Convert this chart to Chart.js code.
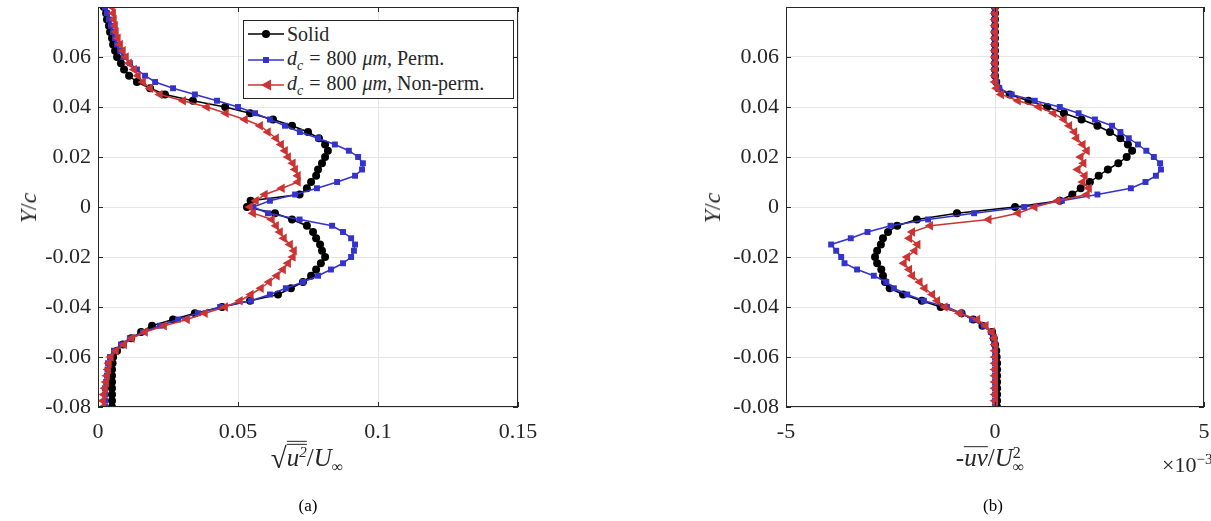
<!DOCTYPE html>
<html lang="en">
<head>
<meta charset="UTF-8">
<title>Wake profiles: u rms and Reynolds shear stress</title>
<script src="https://cdn.jsdelivr.net/npm/chart.js@4.4.3/dist/chart.umd.min.js"></script>
<style>
  body { margin: 0; width: 1211px; height: 521px; background: #fff; position: relative; overflow: hidden;
         font-family: 'Liberation Serif', serif; color: #262626; }
  canvas { position: absolute; top: 0; }
  .lbl { position: absolute; white-space: nowrap; line-height: 1; }
  .it { font-style: italic; }
  .ytitle { font-size: 24px; transform: translate(-50%, -50%) rotate(-90deg); }
  .xtitle { font-size: 25px; transform: translate(-50%, -50%); }
  .cap { font-size: 17px; transform: translate(-50%, -50%); color: #000; }
  .vin { display: inline-block; border-top: 1px solid #262626; line-height: 1; padding-top: 2px; }
  .bar { display: inline-block; border-top: 1px solid #262626; line-height: 0.62; padding-top: 3px; }
  #legend { position: absolute; left: 243px; top: 20px; width: 269px; height: 77px; border: 1px solid #262626;
            background: #fff; font-size: 20px; }
  #legend .row { position: absolute; left: 4px; height: 24px; display: flex; align-items: center; }
  #legend svg { margin-right: 3px; }
  .sp { display: inline-block; width: 6px; }
</style>
</head>
<body>
<canvas id="cu" width="560" height="470" style="left:0"></canvas>
<canvas id="cuv" width="521" height="470" style="left:690px"></canvas>

<!-- legend (panel a) -->
<div id="legend">
  <div class="row" style="top:1px">
    <svg width="36" height="14"><line x1="0" y1="7" x2="36" y2="7" stroke="#000" stroke-width="1.5"/><circle cx="18" cy="7" r="4" fill="#000"/></svg>
    <span>Solid</span>
  </div>
  <div class="row" style="top:27px">
    <svg width="36" height="14"><line x1="0" y1="7" x2="36" y2="7" stroke="#3333cc" stroke-width="1.5"/><rect x="15" y="4" width="6" height="6" fill="#3333cc"/></svg>
    <span><span class="it">d<sub style="font-size:14px">c</sub></span><span class="sp"></span>=<span class="sp"></span>800<span class="sp"></span><span class="it">&mu;m</span>, Perm.</span>
  </div>
  <div class="row" style="top:52px">
    <svg width="36" height="14"><line x1="0" y1="7" x2="36" y2="7" stroke="#cc3333" stroke-width="1.5"/><polygon points="13,7 23,1.5 23,12.5" fill="#cc3333"/></svg>
    <span><span class="it">d<sub style="font-size:14px">c</sub></span><span class="sp"></span>=<span class="sp"></span>800<span class="sp"></span><span class="it">&mu;m</span>, Non-perm.</span>
  </div>
</div>

<!-- axis titles -->
<div class="lbl ytitle" style="left:28px; top:208px"><span class="it">Y</span>/<span class="it">c</span></div>
<div class="lbl ytitle" style="left:712px; top:208px"><span class="it">Y</span>/<span class="it">c</span></div>
<div class="lbl xtitle" style="left:307px; top:458px"><span style="font-size:29px; vertical-align:-2px">&radic;</span><span class="vin"><span class="bar it">u<sup style="font-size:15px">2</sup></span></span>/<span class="it">U</span><sub style="font-size:16px">&infin;</sub></div>
<div class="lbl xtitle" style="left:990px; top:460px">-<span class="bar it">uv</span>/<span class="it">U</span><span style="display:inline-flex; flex-direction:column; font-size:16px; vertical-align:middle; line-height:0.9"><span>2</span><span>&infin;</span></span></div>
<div class="lbl" style="left:1162px; top:452px; font-size:22px">&times;10<sup style="font-size:15px">&minus;3</sup></div>
<div class="lbl cap" style="left:308px; top:505px">(a)</div>
<div class="lbl cap" style="left:993px; top:505px">(b)</div>

<script>
// wall-normal positions, shared by all profiles
const yPos = [-0.08, -0.0775, -0.075, -0.0725, -0.07, -0.0675, -0.065, -0.0625, -0.06, -0.0575,
  -0.055, -0.0525, -0.05, -0.0475, -0.045, -0.0425, -0.04, -0.0375, -0.035, -0.0325,
  -0.03, -0.0275, -0.025, -0.0225, -0.02, -0.0175, -0.015, -0.0125, -0.01, -0.0075,
  -0.005, -0.0025, 0, 0.0025, 0.005, 0.0075, 0.01, 0.0125, 0.015, 0.0175,
  0.02, 0.0225, 0.025, 0.0275, 0.03, 0.0325, 0.035, 0.0375, 0.04, 0.0425,
  0.045, 0.0475, 0.05, 0.0525, 0.055, 0.0575, 0.06, 0.0625, 0.065, 0.0675,
  0.07, 0.0725, 0.075, 0.0775, 0.08];

// (a) sqrt(u^2)/U_inf
const urmsSolid = [0.0050, 0.0050, 0.0050, 0.0050, 0.0050, 0.0050, 0.0050, 0.0052, 0.0054, 0.0068,
  0.0089, 0.0118, 0.0154, 0.0193, 0.0268, 0.0346, 0.0443, 0.0543, 0.0643, 0.0689,
  0.0732, 0.0761, 0.0779, 0.0796, 0.0811, 0.0800, 0.0793, 0.0779, 0.0768, 0.0746,
  0.0693, 0.0632, 0.0532, 0.0545, 0.0720, 0.0746, 0.0761, 0.0779, 0.0786, 0.0800,
  0.0811, 0.0821, 0.0811, 0.0789, 0.0750, 0.0693, 0.0625, 0.0543, 0.0454, 0.0339,
  0.0239, 0.0186, 0.0139, 0.0111, 0.0093, 0.0082, 0.0068, 0.0061, 0.0054, 0.0050,
  0.0043, 0.0039, 0.0032, 0.0029, 0.0021];
const urmsPerm = [0.0025, 0.0025, 0.0025, 0.0025, 0.0029, 0.0032, 0.0034, 0.0036, 0.0043, 0.0057,
  0.0082, 0.0114, 0.0161, 0.0221, 0.0286, 0.0357, 0.0436, 0.0546, 0.0614, 0.0671,
  0.0732, 0.0786, 0.0832, 0.0875, 0.0904, 0.0914, 0.0918, 0.0904, 0.0875, 0.0836,
  0.0720, 0.0607, 0.0554, 0.0614, 0.0704, 0.0782, 0.0854, 0.0918, 0.0943, 0.0946,
  0.0929, 0.0896, 0.0846, 0.0786, 0.0721, 0.0668, 0.0614, 0.0561, 0.0500, 0.0425,
  0.0346, 0.0268, 0.0204, 0.0168, 0.0139, 0.0114, 0.0093, 0.0079, 0.0068, 0.0061,
  0.0054, 0.0046, 0.0039, 0.0032, 0.0025];
const urmsNonPerm = [0.0018, 0.0018, 0.0021, 0.0025, 0.0029, 0.0032, 0.0036, 0.0039, 0.0046, 0.0064,
  0.0093, 0.0121, 0.0168, 0.0236, 0.0318, 0.0382, 0.0454, 0.0507, 0.0546, 0.0582,
  0.0611, 0.0639, 0.0661, 0.0679, 0.0696, 0.0700, 0.0686, 0.0664, 0.0650, 0.0636,
  0.0621, 0.0554, 0.0543, 0.0564, 0.0596, 0.0657, 0.0714, 0.0714, 0.0704, 0.0696,
  0.0679, 0.0668, 0.0654, 0.0636, 0.0607, 0.0579, 0.0525, 0.0457, 0.0389, 0.0304,
  0.0221, 0.0186, 0.0161, 0.0143, 0.0129, 0.0111, 0.0100, 0.0089, 0.0079, 0.0071,
  0.0064, 0.0061, 0.0057, 0.0054, 0.0050];

// (b) -uv/U_inf^2, in units of 1e-3
const uvSolid = [0.05, 0.05, 0.05, 0.05, 0.05, 0.05, 0.05, 0.05, 0.04, 0.03,
  0.0, -0.03, -0.07, -0.30, -0.52, -0.80, -1.30, -1.75, -2.20, -2.52,
  -2.63, -2.68, -2.72, -2.82, -2.87, -2.82, -2.73, -2.68, -2.56, -2.34,
  -1.87, -0.91, 0.48, 1.55, 1.85, 2.05, 2.27, 2.48, 2.70, 2.95,
  3.15, 3.28, 3.18, 3.00, 2.75, 2.45, 2.07, 1.65, 1.25, 0.80,
  0.35, 0.08, 0.03, 0.0, 0.0, 0.0, 0.0, 0.0, 0.0, 0.0,
  0.0, 0.0, 0.0, 0.0, 0.0];
const uvPerm = [0.0, 0.0, 0.0, 0.0, 0.0, 0.0, 0.0, 0.0, 0.0, 0.0,
  0.0, -0.03, -0.10, -0.27, -0.55, -0.80, -1.15, -1.70, -2.10, -2.42,
  -2.60, -2.90, -3.30, -3.60, -3.68, -3.80, -3.92, -3.45, -3.05, -2.50,
  -1.60, -0.50, 0.70, 1.60, 2.45, 3.25, 3.60, 3.85, 3.97, 3.95,
  3.80, 3.62, 3.42, 3.20, 3.00, 2.80, 2.39, 2.00, 1.55, 0.95,
  0.40, 0.10, 0.03, 0.0, 0.0, 0.0, 0.0, 0.0, 0.0, 0.0,
  0.0, 0.0, 0.0, 0.0, 0.0];
const uvNonPerm = [0.0, 0.0, 0.0, 0.0, 0.0, 0.0, 0.0, 0.0, 0.0, 0.0,
  0.0, -0.02, -0.07, -0.22, -0.42, -0.85, -1.20, -1.38, -1.50, -1.68,
  -1.80, -1.98, -2.05, -2.18, -2.10, -1.92, -1.85, -2.05, -1.98, -1.55,
  -0.15, 0.55, 0.95, 1.50, 2.20, 2.25, 2.10, 2.15, 1.98, 2.12,
  2.05, 2.20, 2.10, 1.95, 1.90, 1.78, 1.65, 1.40, 1.05, 0.55,
  0.15, 0.04, 0.0, 0.0, 0.0, 0.0, 0.0, 0.0, 0.0, 0.0,
  0.0, 0.0, 0.0, 0.0, 0.0];

const axisColor = '#262626';
const tickFont = { family: "'Liberation Serif', serif", size: 22 };

// box around the axes with small inward tick marks, like MATLAB
const frame = {
  id: 'frame',
  afterDraw(chart) {
    const { ctx, chartArea: a, scales } = chart;
    ctx.save();
    ctx.strokeStyle = axisColor;
    ctx.lineWidth = 1;
    ctx.strokeRect(a.left + 0.5, a.top + 0.5, a.right - a.left - 1, a.bottom - a.top - 1);
    ctx.beginPath();
    scales.x.ticks.forEach((t, i) => {
      const px = Math.round(scales.x.getPixelForTick(i)) + 0.5;
      ctx.moveTo(px, a.bottom); ctx.lineTo(px, a.bottom - 5);
      ctx.moveTo(px, a.top); ctx.lineTo(px, a.top + 5);
    });
    scales.y.ticks.forEach((t, i) => {
      const py = Math.round(scales.y.getPixelForTick(i)) + 0.5;
      ctx.moveTo(a.left, py); ctx.lineTo(a.left + 5, py);
      ctx.moveTo(a.right, py); ctx.lineTo(a.right - 5, py);
    });
    ctx.stroke();
    ctx.restore();
  }
};

function profile(xs, color, style, radius, order) {
  return {
    data: xs.map((v, i) => ({ x: v, y: yPos[i] })),
    borderColor: color,
    backgroundColor: color,
    borderWidth: 1.5,
    showLine: true,
    pointStyle: style,
    pointRadius: radius,
    pointRotation: style === 'triangle' ? -90 : 0,
    pointBorderWidth: 0,
    order: order
  };
}

function makeChart(id, sets, xOpts, rightPad, yWidth) {
  return new Chart(document.getElementById(id), {
    type: 'scatter',
    data: { datasets: sets },
    options: {
      responsive: false,
      animation: false,
      layout: { padding: { top: 7, right: rightPad, left: 0, bottom: 0 } },
      plugins: { legend: { display: false }, tooltip: { enabled: false } },
      scales: {
        x: Object.assign({
          grid: { color: '#e6e6e6', drawTicks: false },
          border: { display: false },
          afterFit: s => { s.height = 63; s.paddingLeft = 0; s.paddingRight = 0; }
        }, xOpts),
        y: {
          min: -0.08, max: 0.08,
          grid: { color: '#e6e6e6', drawTicks: false },
          border: { display: false },
          ticks: {
            stepSize: 0.02, font: tickFont, color: axisColor, padding: 7,
            callback: v => Math.abs(v - 0.08) < 1e-9 ? '' : (Math.abs(v) < 1e-9 ? '0' : v.toFixed(2))
          },
          afterFit: s => { s.width = yWidth; s.paddingTop = 0; s.paddingBottom = 0; }
        }
      }
    },
    plugins: [frame]
  });
}

function draw() {
  makeChart('cu', [
    profile(urmsSolid, '#000000', 'circle', 4, 2),
    profile(urmsPerm, '#3333cc', 'rect', 4.2, 1),
    profile(urmsNonPerm, '#cc3333', 'triangle', 5.5, 0)
  ], {
    min: 0, max: 0.15,
    ticks: { font: tickFont, color: axisColor, padding: 12, maxRotation: 0, stepSize: 0.05,
             callback: v => String(+v.toFixed(2)) }
  }, 42, 98);

  makeChart('cuv', [
    profile(uvSolid, '#000000', 'circle', 4, 2),
    profile(uvPerm, '#3333cc', 'rect', 4.2, 1),
    profile(uvNonPerm, '#cc3333', 'triangle', 5.5, 0)
  ], {
    min: -5, max: 5,
    ticks: { font: tickFont, color: axisColor, padding: 12, maxRotation: 0, stepSize: 5,
             callback: v => String(v) }
  }, 7, 96);
}

document.fonts.load('22px "Liberation Serif"').then(draw, draw);
</script>
</body>
</html>
